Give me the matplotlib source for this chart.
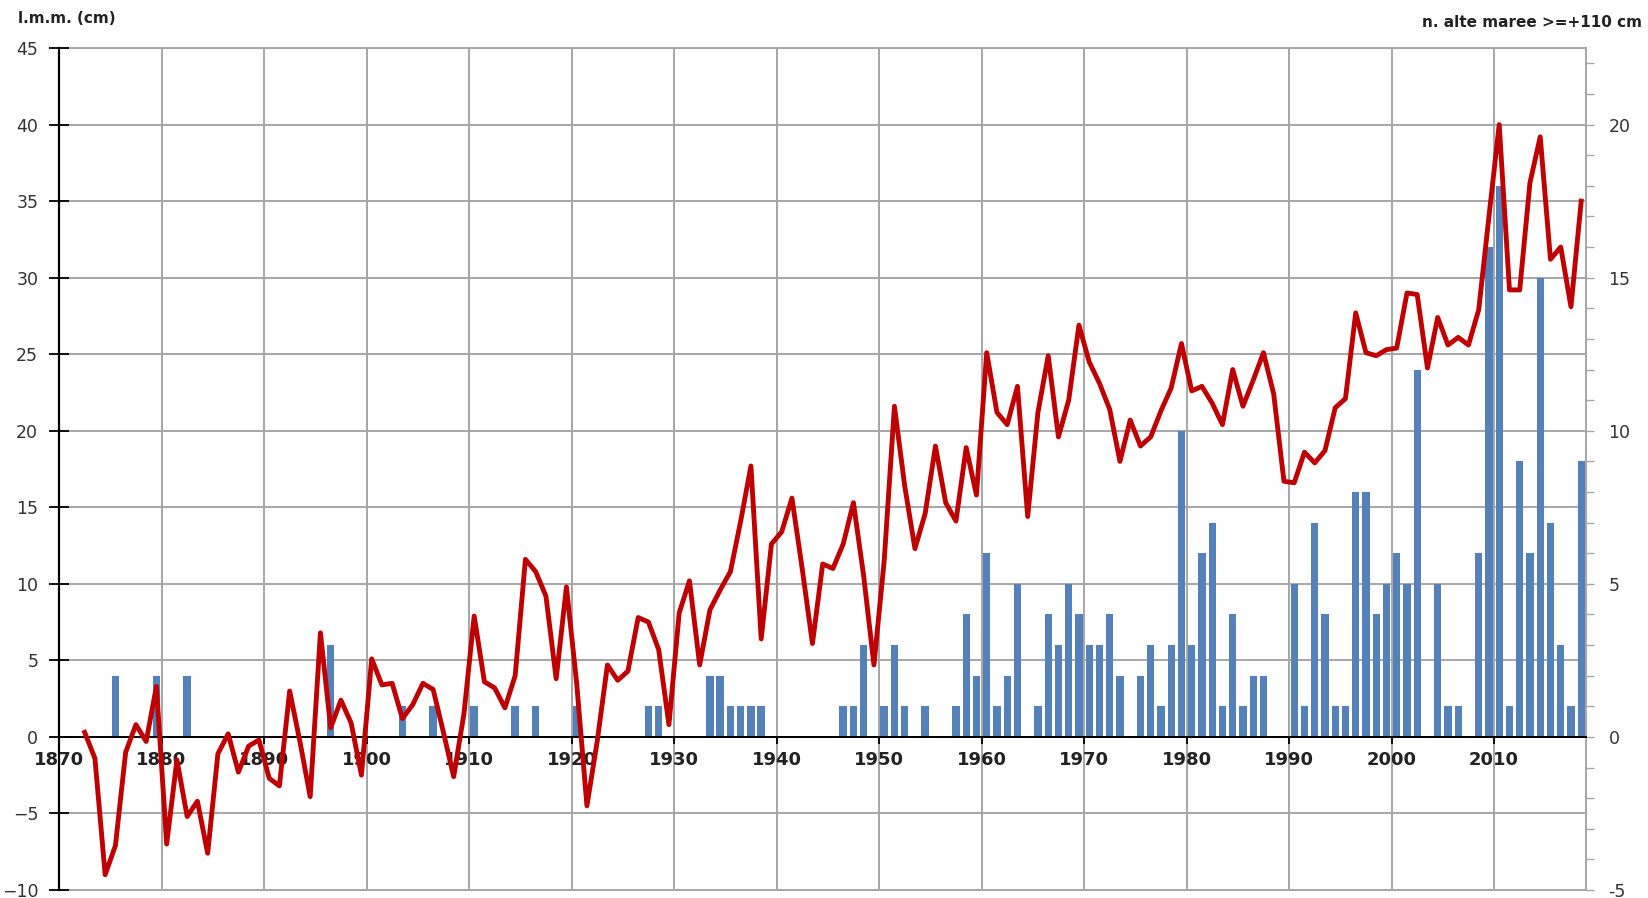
import numpy as np
import matplotlib
matplotlib.use("Agg")
import matplotlib.pyplot as plt
from matplotlib.ticker import MultipleLocator, FuncFormatter

# mean sea level (cm), one value per year from 1872
lmm_years = np.arange(1872, 2019)
lmm = [0.3, -1.4, -9.0, -7.1, -1.0, 0.8, -0.3, 3.3, -7.0,
       -1.5, -5.2, -4.2, -7.6, -1.1, 0.2, -2.3, -0.6, -0.2, -2.7,
       -3.2, 3.0, -0.3, -3.9, 6.8, 0.6, 2.4, 0.9, -2.5, 5.1,
       3.4, 3.5, 1.2, 2.1, 3.5, 3.1, 0.3, -2.6, 1.5, 7.9,
       3.6, 3.2, 1.9, 4.0, 11.6, 10.8, 9.2, 3.8, 9.8, 3.5,
       -4.5, -0.3, 4.7, 3.7, 4.3, 7.8, 7.5, 5.7, 0.8, 8.1,
       10.2, 4.7, 8.3, 9.6, 10.8, 14.1, 17.7, 6.4, 12.6, 13.4,
       15.6, 11.0, 6.1, 11.3, 11.0, 12.6, 15.3, 10.5, 4.7, 11.5,
       21.6, 16.4, 12.3, 14.6, 19.0, 15.3, 14.1, 18.9, 15.8, 25.1,
       21.2, 20.4, 22.9, 14.4, 21.2, 24.9, 19.6, 22.0, 26.9, 24.5,
       23.1, 21.4, 18.0, 20.7, 19.0, 19.6, 21.3, 22.8, 25.7, 22.6,
       22.9, 21.8, 20.4, 24.0, 21.6, 23.3, 25.1, 22.4, 16.7, 16.6,
       18.6, 17.9, 18.7, 21.5, 22.1, 27.7, 25.1, 24.9, 25.3, 25.4,
       29.0, 28.9, 24.1, 27.4, 25.6, 26.1, 25.6, 27.9, 34.0, 40.0,
       29.2, 29.2, 36.2, 39.2, 31.2, 32.0, 28.1, 35.0]

# number of high tides >= +110 cm (years with none are left out)
bar_years = [1875, 1879, 1882, 1896, 1903, 1906, 1910, 1914, 1916, 1920,
             1927, 1928, 1933, 1934, 1935, 1936, 1937, 1938, 1946, 1947,
             1948, 1950, 1951, 1952, 1954, 1957, 1958, 1959, 1960, 1961,
             1962, 1963, 1965, 1966, 1967, 1968, 1969, 1970, 1971, 1972,
             1973, 1975, 1976, 1977, 1978, 1979, 1980, 1981, 1982, 1983,
             1984, 1985, 1986, 1987, 1990, 1991, 1992, 1993, 1994, 1995,
             1996, 1997, 1998, 1999, 2000, 2001, 2002, 2004, 2005, 2006,
             2008, 2009, 2010, 2011, 2012, 2013, 2014, 2015, 2016, 2017,
             2018]
bar_counts = [2, 2, 2, 3, 1, 1, 1, 1, 1, 1,
              1, 1, 2, 2, 1, 1, 1, 1, 1, 1,
              3, 1, 3, 1, 1, 1, 4, 2, 6, 1,
              2, 5, 1, 4, 3, 5, 4, 3, 3, 4,
              2, 2, 3, 1, 3, 10, 3, 6, 7, 1,
              4, 1, 2, 2, 5, 1, 7, 4, 1, 1,
              8, 8, 4, 5, 6, 5, 12, 5, 1, 1,
              6, 16, 18, 1, 9, 6, 15, 7, 3, 1,
              9]

decades = np.arange(1870, 2020, 10)

fig = plt.figure(figsize=(16.49, 8.98), dpi=100)
rect = [0.0358, 0.0089, 0.9262, 0.9376]

grid_col = "#a6a6a6"

# bars + grid (right axis)
ax2 = fig.add_axes(rect)
ax2.bar(np.array(bar_years) + 0.5, bar_counts, width=0.72,
        color="#5581ba", zorder=2)
ax2.set_ylim(-5, 22.5)
ax2.set_xlim(1870, 2019)
ax2.set_xticks(decades)
ax2.yaxis.tick_right()
ax2.yaxis.set_major_locator(MultipleLocator(2.5))
ax2.yaxis.set_minor_locator(MultipleLocator(1))
ax2.yaxis.remove_overlapping_locs = False
ax2.yaxis.set_major_formatter(FuncFormatter(
    lambda v, p: "%d" % v if abs(v % 5) < 1e-6 else ""))
ax2.tick_params(axis="y", which="major", length=0, pad=16,
                labelsize=12.5, labelcolor="#333333")
ax2.tick_params(axis="y", which="minor", length=6, width=1,
                color=grid_col, direction="out")
ax2.tick_params(axis="x", bottom=False, labelbottom=False)
ax2.grid(True, color=grid_col, linewidth=1.4, zorder=0)
ax2.set_axisbelow(True)
for s in ax2.spines.values():
    s.set_color(grid_col)
    s.set_linewidth(1.4)
ax2.spines["left"].set_visible(False)

# sea level line (left axis)
ax1 = fig.add_axes(rect, sharex=ax2)
ax1.patch.set_visible(False)
ax1.plot(lmm_years + 0.5, lmm, color="#c00000", linewidth=3.5,
         solid_joinstyle="round", zorder=3)
ax1.set_ylim(-10, 45)
ax1.yaxis.set_major_locator(MultipleLocator(5))
ax1.spines["top"].set_visible(False)
ax1.spines["right"].set_visible(False)
ax1.spines["bottom"].set_position(("data", 0))
ax1.spines["bottom"].set_linewidth(1.4)
ax1.spines["left"].set_linewidth(1.6)
ax1.tick_params(axis="y", direction="inout", length=14, width=1.3,
                pad=8, labelsize=12.5, labelcolor="#333333")
ax1.tick_params(axis="x", direction="out", length=5, width=1.3,
                pad=5, labelsize=13)
ax1.set_xticks(decades)
ax1.set_xticklabels([str(d) for d in decades], fontweight="bold",
                    color="#222222")

fig.text(0.011, 0.979, "l.m.m. (cm)", fontsize=11, fontweight="bold",
         color="#222222", va="center", ha="left")
fig.text(0.996, 0.975, "n. alte maree >=+110 cm", fontsize=11,
         fontweight="bold", color="#222222", va="center", ha="right")

fig.savefig("out.png", dpi=100)
